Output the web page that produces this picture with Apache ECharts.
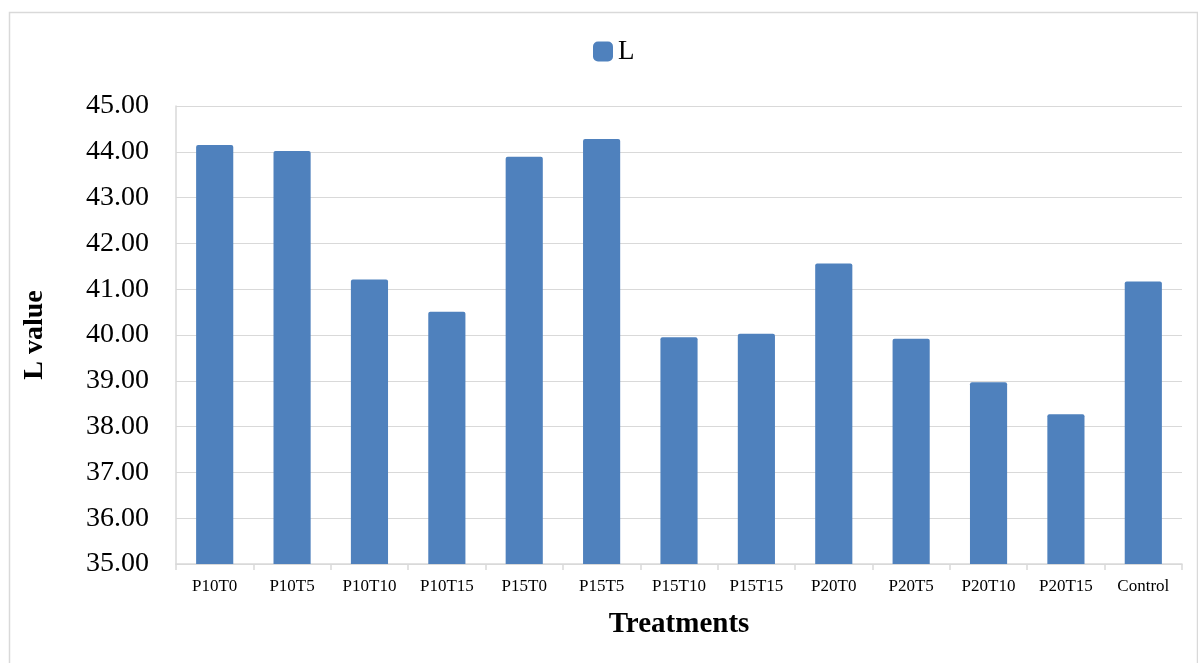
<!DOCTYPE html>
<html><head><meta charset="utf-8">
<script src="https://cdn.jsdelivr.net/npm/echarts@6/dist/echarts.min.js"></script>
<style>html,body{margin:0;padding:0;background:#fff}#c{width:1198px;height:663px}</style>
</head><body><div id="c"></div>
<script>
const categories = ['P10T0','P10T5','P10T10','P10T15','P15T0','P15T5','P15T10','P15T15','P20T0','P20T5','P20T10','P20T15','Control'];
const lValues = [44.15, 44.02, 41.21, 40.51, 43.89, 44.28, 39.95, 40.03, 41.56, 39.92, 38.97, 38.27, 41.17];
const seriesName = 'L';
const xTitle = 'Treatments';
const yTitle = 'L value';

const chart = echarts.init(document.getElementById('c'), null, {renderer:'canvas'});
const font = '"Liberation Serif", "Times New Roman", serif';
chart.setOption({
  animation:false,
  backgroundColor:'#fff',
  graphic:[{type:'rect', shape:{x:9.5,y:12.5,width:1188,height:660}, style:{fill:'none', stroke:'#d9d9d9', lineWidth:1.5}, z:-1}],
  legend:{
    data:[seriesName], top:33, left:588,
    itemWidth:20, itemHeight:20, itemGap:6,
    icon:'roundRect',
    textStyle:{fontFamily:font, fontSize:27, color:'#000'}
  },
  grid:{left:176, right:16, top:106, bottom:99, containLabel:false},
  xAxis:{
    type:'category', data:categories,
    name:xTitle, nameLocation:'middle', nameGap:46,
    nameTextStyle:{fontFamily:font, fontSize:29, fontWeight:'bold', color:'#000'},
    axisLine:{lineStyle:{color:'#d9d9d9', width:1.5}},
    axisTick:{show:true, alignWithLabel:false, length:6, lineStyle:{color:'#d9d9d9', width:1.5}},
    axisLabel:{fontFamily:font, fontSize:17, color:'#000', margin:14, interval:0}
  },
  yAxis:{
    type:'value', min:35, max:45, interval:1,
    name:yTitle, nameLocation:'middle', nameGap:127,
    nameTextStyle:{fontFamily:font, fontSize:28, fontWeight:'bold', color:'#000'},
    axisLine:{show:true, lineStyle:{color:'#d9d9d9', width:1.5}},
    axisTick:{show:false},
    splitLine:{lineStyle:{color:'#d9d9d9', width:1}},
    axisLabel:{fontFamily:font, fontSize:28, color:'#000', margin:27, formatter:v=>v.toFixed(2)}
  },
  series:[{
    name:seriesName, type:'bar', data:lValues, barWidth:'48%',
    itemStyle:{color:'#4f81bd', borderRadius:[2,2,0,0]}
  }]
});
</script></body></html>
